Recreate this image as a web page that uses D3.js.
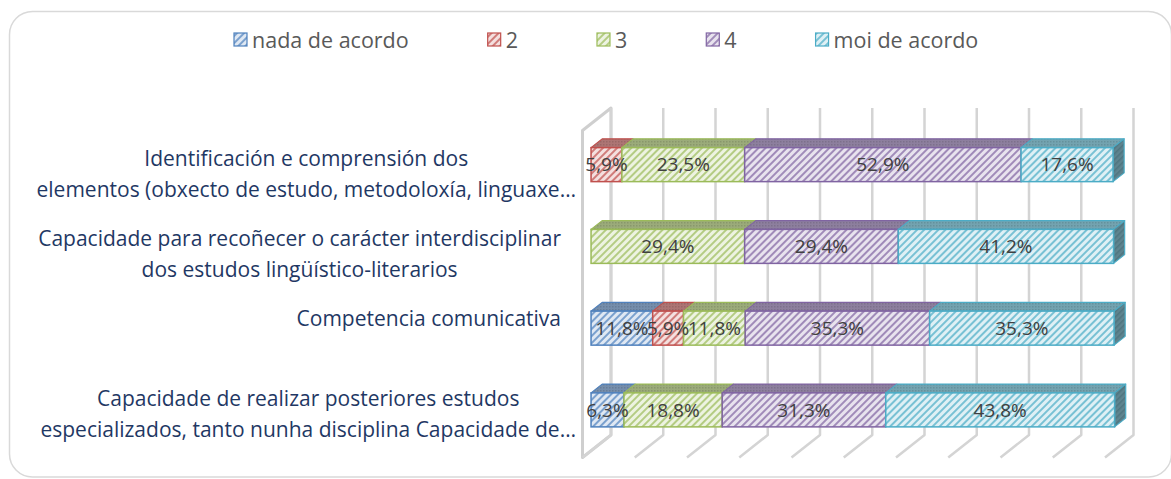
<!DOCTYPE html>
<html>
<head>
<meta charset="utf-8">
<script src="https://cdn.jsdelivr.net/npm/d3@7"></script>
<style>
  html, body { margin: 0; padding: 0; background: #ffffff; }
  svg { display: block; }
  text { font-family: "Open Sans", "DejaVu Sans", sans-serif; }
</style>
</head>
<body>
<svg id="chart" width="1171" height="479"></svg>
<script>
// ---------------- DATA ----------------
const categories = [
  ["Identificación e comprensión dos", "elementos (obxecto de estudo, metodoloxía, linguaxe…"],
  ["Capacidade para recoñecer o carácter interdisciplinar", "dos estudos lingüístico-literarios"],
  ["Competencia comunicativa"],
  ["Capacidade de realizar posteriores estudos", "especializados, tanto nunha disciplina Capacidade de…"]
];
const seriesNames = ["nada de acordo", "2", "3", "4", "moi de acordo"];
const nadaDeAcordo = [0, 0, 11.8, 6.3];
const valor2 = [5.9, 0, 5.9, 0];
const valor3 = [23.5, 29.4, 11.8, 18.8];
const valor4 = [52.9, 29.4, 35.3, 31.3];
const moiDeAcordo = [17.6, 41.2, 35.3, 43.8];
const xTicks = [0, 10, 20, 30, 40, 50, 60, 70, 80, 90, 100];
const seriesColors = ["#4F81BD", "#C0504D", "#9BBB59", "#8064A2", "#4BACC6"];

const seriesValues = [nadaDeAcordo, valor2, valor3, valor4, moiDeAcordo];

// ---------------- LAYOUT ----------------
const svg = d3.select("#chart");
const backLeft = 611, backRight = 1133.5, backTop = 108, backBottom = 435;
const Dx = -28.5, Dy = 22.5;           // projection of full depth (back -> front)
const fFront = 0.70, fBack = 0.31;     // bar depth fractions

const x = d3.scaleLinear().domain([0, 100]).range([backLeft, backRight]);
const y = d3.scaleBand().domain(d3.range(categories.length))
  .range([backTop, backBottom]).paddingInner(0.584).paddingOuter(0.292);
// category label first-line baselines
const yLab = d3.scalePoint().domain(d3.range(categories.length)).range([165.5, 405.5]);

const P = (xv, yb, f) => [x(xv) + f * Dx, yb + f * Dy];
const poly = pts => "M" + pts.map(p => p[0].toFixed(2) + "," + p[1].toFixed(2)).join("L") + "Z";
const mix = (c1, c2, t) => d3.interpolateRgb(c1, c2)(t);

// ---------------- PATTERNS ----------------
const defs = svg.append("defs");
seriesColors.forEach((c, i) => {
  const pf = defs.append("pattern").attr("id", "front" + i)
    .attr("patternUnits", "userSpaceOnUse").attr("width", 5).attr("height", 5)
    .attr("patternTransform", "rotate(45)");
  pf.append("rect").attr("width", 5).attr("height", 5).attr("fill", mix(c, "#ffffff", 0.82));
  pf.append("rect").attr("width", 2).attr("height", 5).attr("fill", mix(c, "#ffffff", 0.25));

  const pt = defs.append("pattern").attr("id", "top" + i)
    .attr("patternUnits", "userSpaceOnUse").attr("width", 3).attr("height", 3);
  pt.append("rect").attr("width", 3).attr("height", 3).attr("fill", mix(c, "#9a9a9a", 0.5));
  pt.append("rect").attr("width", 1.5).attr("height", 1.5).attr("fill", mix(c, "#7a7a7a", 0.55));

  const pe = defs.append("pattern").attr("id", "end" + i)
    .attr("patternUnits", "userSpaceOnUse").attr("width", 4).attr("height", 4)
    .attr("patternTransform", "rotate(45)");
  pe.append("rect").attr("width", 4).attr("height", 4).attr("fill", mix(c, "#6a6a6a", 0.6));
  pe.append("rect").attr("width", 1.5).attr("height", 4).attr("fill", mix(c, "#505050", 0.6));
});

// ---------------- FRAME ----------------
svg.append("rect")
  .attr("x", 9.5).attr("y", 11.5).attr("width", 1162).attr("height", 465.5)
  .attr("rx", 23).attr("ry", 23)
  .attr("fill", "#ffffff").attr("stroke", "#d9d9d9").attr("stroke-width", 1.5);

// ---------------- WALLS / GRID ----------------
const grid = svg.append("g");
grid.append("path")
  .attr("d", poly([P(0, backTop, 0), P(0, backTop, 1), P(0, backBottom, 1), P(0, backBottom, 0)]))
  .attr("fill", "#ffffff").attr("stroke", "#cfcfcf").attr("stroke-width", 3)
  .attr("stroke-linejoin", "round");

xTicks.forEach(t => {
  const top = P(t, backTop, 0), bot = P(t, backBottom, 0), fr = P(t, backBottom, 1);
  grid.append("path")
    .attr("d", `M${top[0]},${top[1]}L${bot[0]},${bot[1]}L${fr[0]},${fr[1]}`)
    .attr("fill", "none").attr("stroke", "#d4d4d4").attr("stroke-width", 2.5)
    .attr("stroke-linejoin", "round");
});

// ---------------- BARS ----------------
const bars = svg.append("g");
const labels = [];
categories.forEach((cat, ci) => {
  let cum = 0;
  const y0 = y(ci), y1 = y0 + y.bandwidth();
  let lastIdx = -1;
  seriesValues.forEach((vals, si) => { if (vals[ci] > 0) lastIdx = si; });
  seriesValues.forEach((vals, si) => {
    const v = vals[ci];
    if (!(v > 0)) return;
    const a = cum, b = cum + v;
    cum = b;
    const c = seriesColors[si];
    bars.append("path")
      .attr("d", poly([P(a, y0, fFront), P(b, y0, fFront), P(b, y0, fBack), P(a, y0, fBack)]))
      .attr("fill", `url(#top${si})`).attr("stroke", c).attr("stroke-width", 1.2)
      .attr("stroke-linejoin", "round");
    if (si === lastIdx) {
      bars.append("path")
        .attr("d", poly([P(b, y0, fFront), P(b, y0, fBack), P(b, y1, fBack), P(b, y1, fFront)]))
        .attr("fill", `url(#end${si})`).attr("stroke", c).attr("stroke-width", 1.2)
        .attr("stroke-linejoin", "round");
    }
    const p0 = P(a, y0, fFront), p1 = P(b, y1, fFront);
    bars.append("rect")
      .attr("x", p0[0]).attr("y", p0[1])
      .attr("width", p1[0] - p0[0]).attr("height", p1[1] - p0[1])
      .attr("fill", `url(#front${si})`).attr("stroke", c).attr("stroke-width", 1.5);
    labels.push({ x: (p0[0] + p1[0]) / 2, y: (p0[1] + p1[1]) / 2, v });
  });
});

const fmt = v => d3.format(".1f")(v).replace(".", ",") + "%";
svg.append("g").selectAll("text").data(labels).join("text")
  .attr("x", d => d.x).attr("y", d => d.y).attr("dy", "0.36em")
  .attr("text-anchor", "middle")
  .attr("font-size", 19).attr("fill", "#404040")
  .text(d => fmt(d.v));

// ---------------- CATEGORY LABELS ----------------
const catG = svg.append("g");
categories.forEach((lines, ci) => {
  const truncated = lines.some(l => l.endsWith("…"));
  const rightEdge = truncated ? 576 : 561;
  const texts = lines.map((l, k) => catG.append("text")
    .attr("font-size", 21).attr("fill", "#1F3864")
    .attr("text-anchor", "middle")
    .attr("y", yLab(ci) + k * 31)
    .text(l));
  const bw = d3.max(texts.map(t => t.node().getComputedTextLength()));
  texts.forEach(t => t.attr("x", rightEdge - bw / 2));
});

// ---------------- LEGEND ----------------
const leg = svg.append("g");
let lx = 234;
const ly = 40;
seriesNames.forEach((name, si) => {
  leg.append("rect")
    .attr("x", lx).attr("y", ly - 7).attr("width", 13).attr("height", 13)
    .attr("fill", `url(#front${si})`).attr("stroke", seriesColors[si]).attr("stroke-width", 1.2);
  const t = leg.append("text")
    .attr("x", lx + 18).attr("y", ly).attr("dy", "0.36em")
    .attr("font-size", 21.5).attr("fill", "#595959")
    .text(name);
  lx += 18 + t.node().getComputedTextLength() + 79;
});
</script>
</body>
</html>
